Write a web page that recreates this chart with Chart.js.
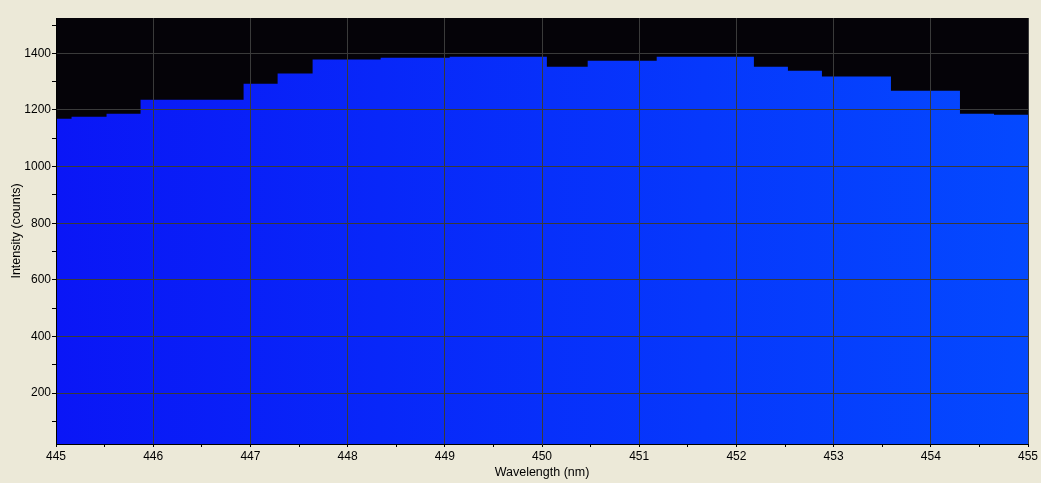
<!DOCTYPE html>
<html>
<head>
<meta charset="utf-8">
<script src="https://cdn.jsdelivr.net/npm/chart.js@4/dist/chart.umd.min.js"></script>
<style>
  html, body { margin: 0; padding: 0; background: #ECE9D8; }
  #wrap { position: relative; width: 1041px; height: 483px; }
</style>
</head>
<body>
<div id="wrap"><canvas id="c" width="1041" height="483"></canvas></div>
<script>
// Step start wavelengths (nm) and intensity (counts) for each step
const wavelengths = [445.00, 445.16, 445.52, 445.87, 446.93, 447.28, 447.64, 448.34, 449.05, 450.05, 450.47, 451.18, 452.18, 452.53, 452.88, 453.59, 454.30, 454.65, 455.00];
const intensity   = [1169, 1176, 1187, 1236, 1293, 1329, 1378, 1385, 1388, 1353, 1374, 1388, 1353, 1339, 1318, 1268, 1187, 1183, 1183];
const xTickValues = [445, 445.5, 446, 446.5, 447, 447.5, 448, 448.5, 449, 449.5, 450, 450.5, 451, 451.5, 452, 452.5, 453, 453.5, 454, 454.5, 455];
const yTickValues = [100, 200, 300, 400, 500, 600, 700, 800, 900, 1000, 1100, 1200, 1300, 1400, 1500];
const xTitle = 'Wavelength (nm)';
const yTitle = 'Intensity (counts)';

const points = wavelengths.map((w, i) => ({ x: w, y: intensity[i] }));

const plotBg = {
  id: 'plotBg',
  beforeDraw(chart) {
    const { ctx, chartArea: a } = chart;
    ctx.save();
    ctx.fillStyle = '#050308';
    ctx.fillRect(a.left, a.top, a.right - a.left, a.bottom - a.top);
    ctx.restore();
  }
};

const font = { family: '"Liberation Sans", Arial, sans-serif', size: 12 };
const titleFont = { family: '"Liberation Sans", Arial, sans-serif', size: 12.5, lineHeight: 1.2 };

new Chart(document.getElementById('c'), {
  type: 'line',
  data: {
    datasets: [{
      data: points,
      stepped: 'before',
      fill: 'start',
      borderWidth: 0,
      pointRadius: 0,
      backgroundColor(ctx) {
        const a = ctx.chart.chartArea;
        if (!a) return '#0a20fa';
        const g = ctx.chart.ctx.createLinearGradient(a.left, 0, a.right, 0);
        g.addColorStop(0, '#0a16f6');
        g.addColorStop(1, '#0449ff');
        return g;
      }
    }]
  },
  options: {
    responsive: false,
    animation: false,
    layout: { padding: { top: 18, right: 13, left: 0, bottom: 0 } },
    plugins: { legend: { display: false }, tooltip: { enabled: false } },
    scales: {
      x: {
        type: 'linear',
        min: 445, max: 455,
        afterFit(s) { s.height = 39; },
        afterBuildTicks(s) { s.ticks = xTickValues.map(v => ({ value: v })); },
        ticks: {
          color: '#000', font, padding: 2, maxRotation: 0, autoSkip: false,
          callback: v => (Number.isInteger(v) ? String(v) : '')
        },
        grid: {
          z: 1,
          color: c => (c.tick && Number.isInteger(c.tick.value) ? '#3a3a3a' : 'rgba(0,0,0,0)'),
          tickColor: '#000',
          tickLength: 3,
          lineWidth: 1
        },
        border: { display: true, color: '#000', width: 1, z: 2 },
        title: { display: true, text: xTitle, color: '#000', font: titleFont, padding: { top: 0, bottom: 2.5 } }
      },
      y: {
        type: 'linear',
        min: 20, max: 1525,
        afterFit(s) { s.width = 56; },
        afterBuildTicks(s) { s.ticks = yTickValues.map(v => ({ value: v })); },
        ticks: {
          color: '#000', font, padding: 1, autoSkip: false,
          callback: v => (v % 200 === 0 ? String(v) : '')
        },
        grid: {
          z: 1,
          color: c => (c.tick && c.tick.value % 200 === 0 ? '#3a3a3a' : 'rgba(0,0,0,0)'),
          tickColor: '#000',
          tickLength: 4,
          lineWidth: 1
        },
        border: { display: true, color: '#000', width: 1, z: 2 },
        title: { display: true, text: yTitle, color: '#000', font: titleFont, padding: { top: 9.5, bottom: 0 } }
      }
    }
  },
  plugins: [plotBg]
});
</script>
</body>
</html>
